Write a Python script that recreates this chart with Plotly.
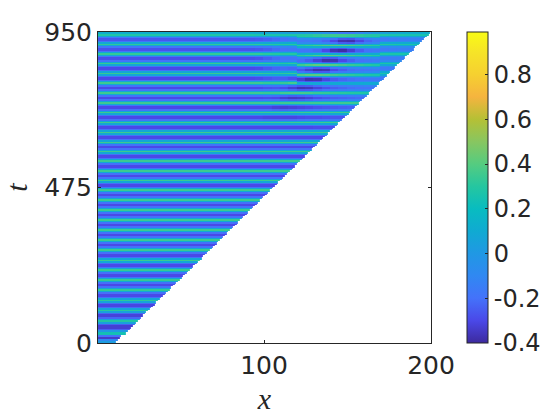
import numpy as np
import plotly.graph_objects as go

# values
ridge_t = [941, 912, 883, 853, 823, 794, 764, 733, 704, 673, 643, 613, 584, 556, 525, 496,
           467, 437, 406, 376, 345, 315, 284, 252, 223, 192, 162, 130, 99, 67, 31]
ridge_z = [0.28, 0.32, 0.33, 0.34, 0.34, 0.35, 0.35, 0.35, 0.35, 0.35, 0.35, 0.35, 0.35, 0.35, 0.35, 0.35,
           0.35, 0.35, 0.35, 0.35, 0.35, 0.35, 0.35, 0.35, 0.34, 0.34, 0.33, 0.32, 0.31, 0.29, 0.24]
trough_z = [-0.27, -0.28, -0.29, -0.3, -0.3, -0.3, -0.3, -0.3, -0.3, -0.3, -0.3, -0.3,
            -0.3, -0.3, -0.3, -0.3, -0.3, -0.3, -0.3, -0.3, -0.3, -0.3, -0.3, -0.3,
            -0.3, -0.3, -0.3, -0.31, -0.32, -0.33]

edge_t = [2, 8, 14, 20]
edge_z = [0.02, -0.1, -0.34, -0.2]
top_t = 947
top_z = 0.12

front_t = [0, 950]
front_x = [11, 200]

# columns of the disturbed part, top bands first
patch_x = [95, 100, 105, 110, 115, 120, 125, 130, 135, 140, 145, 150, 155, 160, 165, 170, 175, 180, 185, 190, 195, 200]
top_patch = [0.1, 0.08, 0.06, 0.05, 0.04, 0.03, 0.02, 0.0, -0.04, -0.1, -0.16, -0.16, -0.1, -0.04, 0.02, 0.05, 0.08, 0.1, 0.12, 0.12, 0.14, 0.14]
trough_patch = [
    [-.26, -.24, -.22, -.2, -.18, -.17, -.17, -.19, -.23, -.3, -.37, -.38, -.31, -.23, -.19, -.17, -.16, -.15, -.15, -.15, -.15, -.15],
    [-.27, -.25, -.22, -.2, -.19, -.18, -.19, -.22, -.3, -.37, -.39, -.33, -.25, -.2, -.18, -.17, -.16, -.15, -.15, -.15, -.15, -.15],
    [-.28, -.25, -.22, -.2, -.2, -.21, -.25, -.32, -.38, -.37, -.3, -.24, -.2, -.18, -.17, -.16, -.16, -.15, -.15, -.15, -.15, -.15],
    [-.29, -.26, -.23, -.22, -.23, -.27, -.33, -.38, -.37, -.3, -.25, -.21, -.19, -.18, -.17, -.17, -.16, -.16, -.15, -.15, -.15, -.15],
    [-.29, -.27, -.25, -.25, -.28, -.33, -.38, -.37, -.31, -.26, -.23, -.21, -.19, -.18, -.18, -.17, -.17, -.16, -.16, -.15, -.15, -.15],
    [-.3, -.28, -.27, -.29, -.33, -.37, -.36, -.32, -.28, -.25, -.23, -.21, -.2, -.19, -.19, -.18, -.18, -.17, -.16, -.16, -.15, -.15],
    [-.3, -.29, -.3, -.33, -.35, -.34, -.32, -.29, -.27, -.25, -.24, -.23, -.22, -.21, -.2, -.19, -.19, -.18, -.17, -.17, -.16, -.16],
    [-.3, -.3, -.32, -.33, -.32, -.31, -.3, -.28, -.27, -.26, -.25, -.24, -.23, -.22, -.22, -.21, -.2, -.19, -.18, -.18, -.17, -.16],
    [-.3, -.31, -.31, -.31, -.31, -.3, -.29, -.29, -.28, -.27, -.27, -.26, -.25, -.24, -.23, -.23, -.22, -.21, -.2, -.19, -.18, -.17],
    [-.3, -.3, -.3, -.3, -.3, -.3, -.3, -.29, -.29, -.28, -.28, -.27, -.27, -.26, -.25, -.25, -.24, -.23, -.22, -.21, -.2, -.19],
]
ridge_patch = [
    [.27, .27, .27, .27, .28, .29, .3, .32, .34, .35, .35, .34, .32, .3, .29, .28, .27, .27, .26, .26, .26, .26],
    [.32, .31, .3, .3, .3, .31, .33, .36, .39, .41, .41, .39, .36, .33, .31, .29, .28, .27, .27, .26, .26, .26],
    [.33, .31, .3, .3, .3, .32, .35, .39, .42, .42, .4, .37, .34, .32, .3, .28, .27, .27, .26, .26, .26, .26],
    [.34, .32, .3, .3, .32, .35, .39, .42, .42, .4, .37, .34, .32, .3, .28, .27, .27, .26, .26, .26, .26, .26],
    [.34, .32, .31, .32, .34, .38, .41, .41, .39, .36, .34, .32, .3, .28, .27, .27, .26, .26, .26, .26, .26, .26],
    [.35, .33, .33, .34, .37, .39, .39, .37, .35, .33, .32, .3, .29, .28, .28, .27, .26, .26, .26, .26, .26, .26],
    [.35, .34, .34, .36, .37, .37, .36, .34, .33, .32, .31, .3, .29, .28, .28, .27, .27, .27, .26, .26, .26, .26],
]

# how far the top bands sag in the disturbed columns, in rows
bend_start_t = 790
bend_rows = [0, 0, 0, 0, 0, 1, 1, 1, 1, 1, 1, 1, 1, 1, 1, 0, 0, 0, 0, 0, 0, 0]

colorscale_pos = [-0.4, -0.3, -0.2, -0.1, 0, 0.1, 0.2, 0.3, 0.4, 0.5, 0.6, 0.7, 0.8, 0.9, 0.99]
colorscale_hex = ["#3d2a9e", "#4a48e8", "#4472fa", "#3088f2", "#2098e4", "#10aad2", "#08bcc0", "#25c6a0",
                  "#55cc80", "#88c660", "#b5c035", "#f5b43f", "#f6d030", "#f6e428", "#f9fb15"]

x_ticks = [100, 200]
y_ticks = [0, 475, 950]
bar_ticks = [-0.4, -0.2, 0, 0.2, 0.4, 0.6, 0.8]
bar_labels = ["-0.4", "-0.2", "0", "0.2", "0.4", "0.6", "0.8"]

x = np.arange(1, 201)
patch_idx = {v: i for i, v in enumerate(patch_x)}


def col_value(table, k, xv, base):
    if k >= len(table) or xv < patch_x[0]:
        return base
    return table[k][patch_idx[min(patch_x[-1], xv // 5 * 5)]]


rows_t = []
rows_z = []
for t, v in zip(edge_t, edge_z):
    rows_t.append(t)
    rows_z.append([v] * len(x))

mix = [1, 0.6, 0.15, 0, 0, 0.15, 0.6]
for k in range(len(trough_z) - 1, -1, -1):
    low, high = ridge_t[k + 1], ridge_t[k]
    for j, a in enumerate(mix):
        row = []
        for xv in x:
            near = k + 1 if j < 3 else k
            r = col_value(ridge_patch, near, int(xv), ridge_z[near])
            d = col_value(trough_patch, k, int(xv), trough_z[k])
            row.append(d + a * (r - d))
        rows_t.append(low + j / len(mix) * (high - low))
        rows_z.append(row)

rows_t.append(ridge_t[0])
rows_z.append([col_value(ridge_patch, 0, int(xv), ridge_z[0]) for xv in x])
rows_t.append(top_t)
rows_z.append([top_z if xv < patch_x[0] else top_patch[patch_idx[xv // 5 * 5]] for xv in x])

z = np.array(rows_z, dtype=float)
source = z.copy()
for i, t in enumerate(rows_t):
    if bend_start_t <= t <= ridge_t[0]:
        for c, xv in enumerate(x):
            if xv >= patch_x[0]:
                s = bend_rows[patch_idx[int(xv) // 5 * 5]]
                z[i, c] = source[min(i + s, len(rows_t) - 2), c]

limit = np.interp(rows_t, front_t, front_x)
z[x[None, :] > limit[:, None]] = np.nan

zmin, zmax = colorscale_pos[0], colorscale_pos[-1]
scale = [[(p - zmin) / (zmax - zmin), c] for p, c in zip(colorscale_pos, colorscale_hex)]

fig = go.Figure()
fig.add_trace(go.Heatmap(
    x=x, y=rows_t, z=z, zmin=zmin, zmax=zmax, colorscale=scale, hoverongaps=False,
    colorbar=dict(
        x=467 / 560, xanchor="left", xref="container", y=0.5, yanchor="middle", yref="paper",
        len=1, lenmode="fraction", thickness=21, thicknessmode="pixels",
        outlinecolor="#262626", outlinewidth=1, ticks="inside", ticklen=3, tickcolor="#262626",
        tickvals=bar_ticks, ticktext=bar_labels, tickfont=dict(size=24, color="#262626"),
        xpad=0, ypad=0,
    ),
))

axis_style = dict(
    showgrid=False, zeroline=False, showline=True, mirror="ticks", linecolor="#262626", linewidth=1,
    ticks="inside", ticklen=3, tickcolor="#262626", tickfont=dict(size=25, color="#262626"),
)
fig.update_xaxes(range=[0.6, 200], tickvals=x_ticks, **axis_style,
                 title=dict(text="<i>x</i>", standoff=8, font=dict(family="Liberation Serif", size=30, color="#262626")))
fig.update_yaxes(range=[0, 950], tickvals=y_ticks, **axis_style,
                 title=dict(text="<i>t</i>", standoff=13, font=dict(family="Liberation Serif", size=30, color="#262626")))
fig.update_layout(
    width=560, height=420, margin=dict(l=98, r=129, t=32, b=77, autoexpand=False),
    paper_bgcolor="white", plot_bgcolor="white", font=dict(family="DejaVu Sans"),
)
fig.write_html("out.html", config=dict(displayModeBar=False), post_script="document.body.style.margin='0';")
